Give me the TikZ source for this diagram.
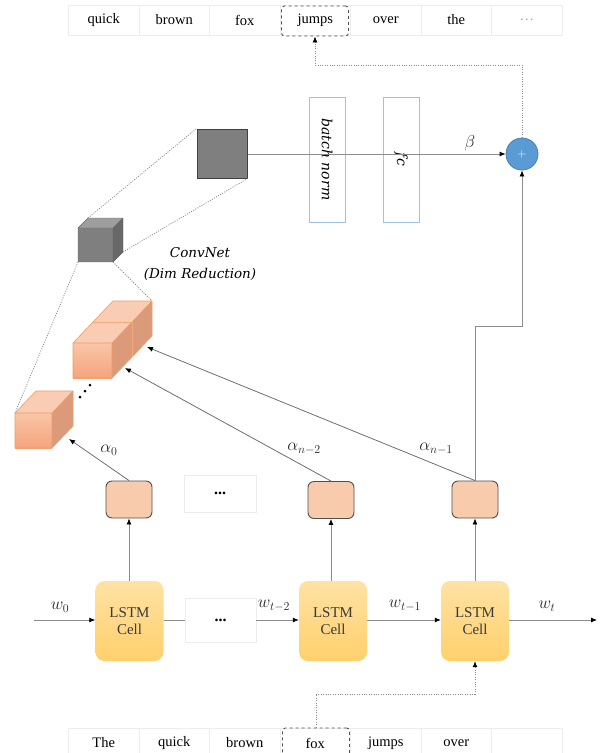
\documentclass[tikz,border=0pt]{standalone}
\usepackage{fontspec}
\setmainfont{Liberation Serif}
\newfontfamily\labelfont{DejaVu Serif}
\usetikzlibrary{arrows.meta}

\definecolor{cellgray}{HTML}{EDEDED}
\definecolor{linegray}{HTML}{8C8C8C}
\definecolor{darkline}{HTML}{6E6E6E}
\definecolor{dotgray}{HTML}{8A8A8A}
\definecolor{lstmtop}{HTML}{FFE2A4}
\definecolor{lstmbot}{HTML}{FFD06C}
\definecolor{lstmtext}{HTML}{3A3A3A}
\definecolor{attnfill}{HTML}{F8CBAD}
\definecolor{attnedge}{HTML}{505050}
\definecolor{nblue}{HTML}{9DC3E6}
\definecolor{plusfill}{HTML}{5B9BD5}
\definecolor{plusedge}{HTML}{4A7EB0}
\definecolor{orfronttop}{HTML}{F9C6A8}
\definecolor{orfrontbot}{HTML}{F4A47C}
\definecolor{orside}{HTML}{DB9B7B}
\definecolor{ortop}{HTML}{F9CDB3}
\definecolor{oredge}{HTML}{F29A62}
\definecolor{cubegray}{HTML}{7F7F7F}
\definecolor{cubetop}{HTML}{9E9E9E}
\definecolor{cubeside}{HTML}{686868}

\tikzset{
  word/.style={draw=cellgray, line width=0.6pt, minimum width=70.5pt, minimum height=30pt,
    inner sep=0pt, font=\fontsize{14.5}{16}\selectfont},
  markbox/.style={draw=attnedge, dashed, line width=0.9pt, rounded corners=3pt,
    minimum width=67pt, minimum height=30pt, inner sep=0pt},
  lstm/.style={rounded corners=9pt, minimum width=68pt, minimum height=80pt, inner sep=0pt,
    top color=lstmtop, bottom color=lstmbot, align=center, text=lstmtext,
    font=\fontsize{15}{17}\selectfont},
  attn/.style={rounded corners=6pt, minimum width=46pt, minimum height=37pt, inner sep=0pt,
    fill=attnfill, draw=attnedge, line width=0.9pt},
  gapbox/.style={draw=cellgray, line width=0.6pt, inner sep=0pt, font=\fontsize{16}{17}\selectfont\bfseries},
  layerbox/.style={draw=nblue, line width=1pt, fill=white, minimum width=125pt, minimum height=36pt,
    inner sep=0pt, rotate=-90, font=\labelfont\itshape\fontsize{14}{16}\selectfont},
  conn/.style={draw=linegray, line width=0.8pt},
  arr/.style={conn, -{Latex[length=6pt,width=5pt,color=black]}},
  aarr/.style={draw=darkline, line width=0.8pt, -{Latex[length=6pt,width=5pt,color=black]}},
  dots/.style={draw=dotgray, line width=0.8pt, dash pattern=on 1pt off 1.4pt},
  darr/.style={dots, -{Latex[length=6pt,width=5pt,color=black]}},
  lab/.style={font=\fontsize{16.5}{18}\selectfont, inner sep=1pt, text=black!85},
}

\begin{document}
\begin{tikzpicture}[x=1pt,y=-1pt]
\useasboundingbox (0,0) rectangle (600,753);
\clip (0,0) rectangle (600,753);

% ---------- output words ----------
\node[word] (o1) at (103.75,20) {quick};
\node[word] (o2) at (174.25,20) {brown};
\node[word] (o3) at (244.75,20) {fox};
\node[word] (o4) at (315.25,20) {jumps};
\node[word] (o5) at (385.75,20) {over};
\node[word] (o6) at (456.25,20) {the};
\node[word, text=gray!70] (o7) at (526.75,20) {\dots};
\node[markbox] (jmark) at (315,21) {};

% ---------- input words ----------
\node[word] (i1) at (103.75,743) {The};
\node[word] (i2) at (174.25,743) {quick};
\node[word] (i3) at (244.75,743) {brown};
\node[word] (i4) at (315.25,743) {fox};
\node[word] (i5) at (385.75,743) {jumps};
\node[word] (i6) at (456.25,743) {over};
\node[word] (i7) at (526.75,743) {};
\node[markbox] (fmark) at (316,743) {};

% ---------- LSTM chain ----------
\node[lstm] (c1) at (129.5,621) {LSTM\\Cell};
\node[lstm] (c2) at (333,621) {LSTM\\Cell};
\node[lstm] (c3) at (475,621) {LSTM\\Cell};
\node[gapbox, minimum width=71pt, minimum height=44pt] (lgap) at (220.5,620) {...};
\coordinate (win) at (34,620);
\coordinate (wout) at (597,620);

\draw[arr] (win) -- (win -| c1.west);
\draw[conn] (c1.east |- lgap) -- (lgap.west);
\draw[arr] (lgap.east) -- (lgap -| c2.west);
\draw[arr] (c2.east |- lgap) -- (lgap -| c3.west);
\draw[arr] (c3.east |- lgap) -- (wout);

\node[lab] at (60,607) {$w_0$};
\node[lab] at (274,606) {$w_{t-2}$};
\node[lab] at (405,606) {$w_{t-1}$};
\node[lab] at (547,606) {$w_t$};

% ---------- attention boxes ----------
\node[attn] (a1) at (129,499.5) {};
\node[attn] (a2) at (331,500) {};
\node[attn] (a3) at (475,499.5) {};
\node[gapbox, minimum width=72pt, minimum height=37pt] (agap) at (220,493.5) {...};

\draw[arr] (c1.north -| a1) -- (a1.south);
\draw[arr] (c2.north -| a2) -- (a2.south);
\draw[arr] (c3.north -| a3) -- (a3.south);

% ---------- feature cubes ----------
% single slice
\fill[top color=orfronttop, bottom color=orfrontbot] (15,413) rectangle (52,448);
\fill[ortop] (15,413) -- (36,391) -- (73,391) -- (52,413) -- cycle;
\fill[orside] (52,413) -- (73,391) -- (73,426) -- (52,448) -- cycle;
\draw[oredge, line width=0.6pt, line join=round]
  (15,413) rectangle (52,448)
  (15,413) -- (36,391) -- (73,391) -- (52,413)
  (73,391) -- (73,426) -- (52,448);
% two stacked slices
\fill[top color=orfronttop, bottom color=orfrontbot] (73,343) rectangle (112,378);
\fill[ortop] (73,343) -- (113,301) -- (152,301) -- (112,343) -- cycle;
\fill[orside] (112,343) -- (152,301) -- (152,336) -- (112,378) -- cycle;
\draw[oredge, line width=0.6pt, line join=round]
  (73,343) rectangle (112,378)
  (73,343) -- (113,301) -- (152,301) -- (112,343)
  (152,301) -- (152,336) -- (112,378);
\draw[oredge!70!ortop, line width=0.5pt] (93,322) -- (132,322) -- (132,357);
% ellipsis between slices
\fill[black] (80,397) circle (1.5) (85,391) circle (1.5) (90,385) circle (1.5);

\coordinate (s0) at (69,439);
\coordinate (s1) at (125,368);
\coordinate (s2) at (147,347);

\draw[aarr] (a1.north) -- (s0);
\draw[aarr] (a2.north) -- (s1);
\draw[aarr] (a3.north) -- (s2);
\node[lab] at (109,450) {$\alpha_0$};
\node[lab] at (304,449) {$\alpha_{n-2}$};
\node[lab] at (436,449) {$\alpha_{n-1}$};

% ---------- reduced cube ----------
\fill[cubegray] (78,228) rectangle (113,262);
\fill[cubetop] (78,228) -- (88,218) -- (123,218) -- (113,228) -- cycle;
\fill[cubeside] (113,228) -- (123,218) -- (123,252) -- (113,262) -- cycle;
\draw[cubegray!80!black, line width=0.4pt, line join=round]
  (78,228) rectangle (113,262)
  (78,228) -- (88,218) -- (123,218) -- (113,228)
  (123,218) -- (123,252) -- (113,262);

\node[font=\labelfont\itshape\fontsize{13.5}{21}\selectfont, align=center] (cnlab) at (200,264)
  {ConvNet\\(Dim Reduction)};

% ---------- head ----------
\node[draw=black!75, line width=1pt, fill=cubegray, minimum width=50pt, minimum height=49pt,
  inner sep=0pt] (sq) at (222,153.5) {};
\node[layerbox] (bn) at (327,159.5) {batch norm};
\node[layerbox] (fc) at (401,159.5) {fc};
\node[circle, fill=plusfill, draw=plusedge, line width=0.8pt, minimum size=32pt, inner sep=0pt,
  text=white, font=\fontsize{12}{12}\selectfont] (plus) at (522,154) {$+$};

\coordinate (cubeA) at (88,218);
\coordinate (cubeB) at (123,252);
\coordinate (cubeC) at (78,262);
\coordinate (cubeD) at (113,262);
\coordinate (sliceA) at (15,413);
\coordinate (sliceB) at (152,301);

\draw[dots] (cubeA) -- (sq.north west);
\draw[dots] (cubeB) -- (sq.south east);
\draw[dots] (cubeC) -- (sliceA);
\draw[dots] (cubeD) -- (sliceB);

\coordinate (hl) at (0,154);
\draw[conn] (sq.east |- hl) -- (bn.north |- hl);
\draw[conn] (bn.south |- hl) -- (fc.north |- hl);
\draw[arr] (fc.south |- hl) -- (plus.west);
\node[lab] at (470,143) {$\beta$};

\coordinate (rbend) at (0,326);
\draw[arr] (a3.north) -- (a3.north |- rbend) -| (plus.south);

% ---------- dotted feedback paths ----------
\coordinate (tbend) at (0,65);
\draw[darr] (plus.north) -- (plus.north |- tbend) -| (jmark.south);
\coordinate (bbend) at (0,694);
\draw[darr] (fmark.north) -- (fmark.north |- bbend) -| (c3.south);
\end{tikzpicture}
\end{document}
